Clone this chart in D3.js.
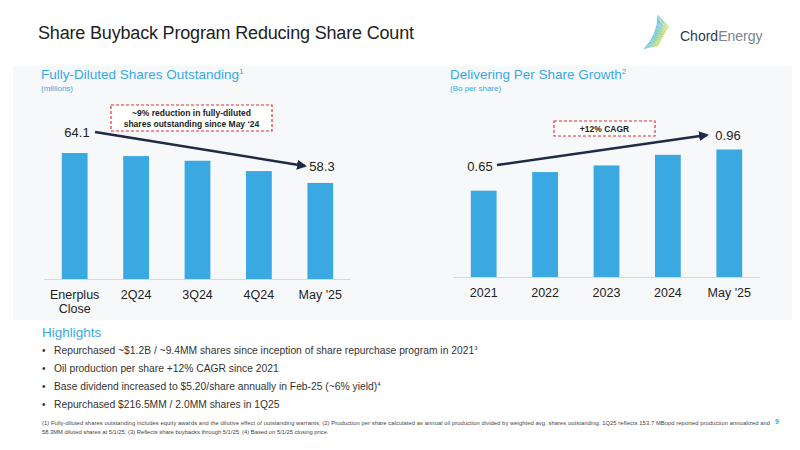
<!DOCTYPE html>
<html lang="en">
<head>
<meta charset="UTF-8" />
<title>Share Buyback Program</title>
<style>
  body { margin: 0; background: #fff; }
  svg { display: block; font-family: "Liberation Sans", Arial, sans-serif; }
</style>
</head>
<body>
<div id="chart"></div>
<script src="https://cdnjs.cloudflare.com/ajax/libs/d3/7.8.5/d3.min.js"></script>
<script>
var shareCats = ["Enerplus\nClose", "2Q24", "3Q24", "4Q24", "May '25"];
var shareVals = [64.1, 63.5, 62.6, 60.6, 58.3];
var growthCats = ["2021", "2022", "2023", "2024", "May '25"];
var growthVals = [0.65, 0.79, 0.84, 0.92, 0.96];
var bullets = [
  ["Repurchased ~$1.2B / ~9.4MM shares since inception of share repurchase program in 2021", "3"],
  ["Oil production per share +12% CAGR since 2021", ""],
  ["Base dividend increased to $5.20/share annually in Feb-25 (~6% yield)", "4"],
  ["Repurchased $216.5MM / 2.0MM shares in 1Q25", ""]
];

var blue = "#3aa9e2", navy = "#1f2a44";
var svg = d3.select("#chart").append("svg").attr("width", 800).attr("height", 450);

svg.append("defs").append("marker").attr("id", "arr")
  .attr("viewBox", "0 0 10 10").attr("refX", 8).attr("refY", 5)
  .attr("markerWidth", 4).attr("markerHeight", 4).attr("orient", "auto")
  .append("path").attr("d", "M0,0L10,5L0,10z").attr("fill", navy);

svg.append("rect").attr("x", 13).attr("y", 66).attr("width", 779).attr("height", 254).attr("fill", "#f7f8fa");

svg.append("text").attr("x", 38).attr("y", 39).attr("font-size", 18).attr("fill", "#222")
  .attr("textLength", 376).text("Share Buyback Program Reducing Share Count");

// logo
var logo = svg.append("g").attr("transform", "translate(660,33)");
for (var i = 0; i < 10; i++) {
  logo.append("path")
    .attr("d", "M" + (-16 + i * 1.5) + "," + (16 - i * 0.3) + " Q" + (-2 + i * 0.5) + "," + (2) + " " + (-2 + i * 1.2) + "," + (-18 + i * 1.2))
    .attr("fill", "none").attr("stroke", d3.interpolateRgb("#3ab5e6", "#b5d334")(i / 9)).attr("stroke-width", 0.8);
}
svg.append("text").attr("x", 680).attr("y", 41).attr("font-size", 14).attr("fill", "#2d3a4a").text("Chord")
  .append("tspan").attr("fill", "#7a8290").text("Energy");

function panel(x0, cats, vals, domain, base, top, title, sup, sub) {
  var x = d3.scaleBand().domain(cats).range([x0, x0 + 307]).paddingInner(0.58).paddingOuter(0.29);
  var y = d3.scaleLinear().domain(domain).range([base, top]);
  svg.append("text").attr("x", x0 - 3).attr("y", 79).attr("font-size", 13.5).attr("fill", blue)
    .text(title).append("tspan").attr("font-size", 8).attr("dy", -5).text(sup);
  svg.append("text").attr("x", x0 - 3).attr("y", 91).attr("font-size", 8).attr("fill", blue).text(sub);
  svg.selectAll(null).data(vals).enter().append("rect")
    .attr("x", function (d, i) { return x(cats[i]); })
    .attr("y", function (d) { return y(d); })
    .attr("width", x.bandwidth())
    .attr("height", function (d) { return base - y(d); })
    .attr("fill", blue);
  svg.append("line").attr("x1", x0).attr("x2", x0 + 307).attr("y1", base + 0.5).attr("y2", base + 0.5)
    .attr("stroke", "#d8d8d8");
  var t = svg.selectAll(null).data(cats).enter().append("text")
    .attr("x", function (d) { return x(d) + x.bandwidth() / 2; })
    .attr("y", base + 20).attr("text-anchor", "middle").attr("font-size", 12.5).attr("fill", "#222");
  t.each(function (d) {
    d.split("\n").forEach(function (s, k) {
      d3.select(this).append("tspan").attr("x", d3.select(this).attr("x")).attr("dy", k ? 14 : 0).text(s);
    }, this);
  });
  return { x: x, y: y };
}

var L = panel(44, shareCats, shareVals, [39.7, 64.1], 279, 153, "Fully-Diluted Shares Outstanding", "1", "(millions)");
var R = panel(453, growthCats, growthVals, [0, 0.96], 277, 149.5, "Delivering Per Share Growth", "2", "(Bo per share)");

// left annotations
svg.append("text").attr("x", 77).attr("y", 137).attr("font-size", 13).attr("text-anchor", "middle").attr("fill", "#222").text(shareVals[0]);
svg.append("text").attr("x", 322).attr("y", 171).attr("font-size", 13).attr("text-anchor", "middle").attr("fill", "#222").text(shareVals[4]);
svg.append("line").attr("x1", 95).attr("y1", 132).attr("x2", 305).attr("y2", 166)
  .attr("stroke", navy).attr("stroke-width", 2.5).attr("marker-end", "url(#arr)");
svg.append("rect").attr("x", 111).attr("y", 105).attr("width", 161).attr("height", 26)
  .attr("fill", "#fff").attr("stroke", "#e53030").attr("stroke-dasharray", "3,2").attr("stroke-width", 1.2);
svg.append("text").attr("x", 191.5).attr("y", 116).attr("text-anchor", "middle").attr("font-size", 8.5).attr("font-weight", "bold").attr("fill", "#222")
  .text("~9% reduction in fully-diluted");
svg.append("text").attr("x", 191.5).attr("y", 127).attr("text-anchor", "middle").attr("font-size", 8.5).attr("font-weight", "bold").attr("fill", "#222")
  .text("shares outstanding since May ‘24");

// right annotations
svg.append("text").attr("x", 480).attr("y", 171).attr("font-size", 13).attr("text-anchor", "middle").attr("fill", "#222").text(growthVals[0].toFixed(2));
svg.append("text").attr("x", 728).attr("y", 140).attr("font-size", 13).attr("text-anchor", "middle").attr("fill", "#222").text(growthVals[4].toFixed(2));
svg.append("line").attr("x1", 497).attr("y1", 165).attr("x2", 707).attr("y2", 135)
  .attr("stroke", navy).attr("stroke-width", 2.5).attr("marker-end", "url(#arr)");
svg.append("rect").attr("x", 554).attr("y", 121).attr("width", 101).attr("height", 15)
  .attr("fill", "#fff").attr("stroke", "#e53030").attr("stroke-dasharray", "3,2").attr("stroke-width", 1.2);
svg.append("text").attr("x", 604.5).attr("y", 131.5).attr("text-anchor", "middle").attr("font-size", 8.5).attr("font-weight", "bold").attr("fill", "#222")
  .text("+12% CAGR");

// highlights
svg.append("text").attr("x", 42).attr("y", 337).attr("font-size", 13.5).attr("fill", blue).text("Highlights");
bullets.forEach(function (b, i) {
  var yy = 354 + i * 18;
  svg.append("text").attr("x", 42).attr("y", yy).attr("font-size", 10).attr("fill", "#333").text("•");
  var t = svg.append("text").attr("x", 54).attr("y", yy).attr("font-size", 10.3).attr("fill", "#333").text(b[0]);
  if (b[1]) t.append("tspan").attr("font-size", 6).attr("dy", -4).text(b[1]);
});
svg.append("text").attr("x", 42).attr("y", 425).attr("font-size", 5.8).attr("fill", "#444")
  .attr("textLength", 728)
  .text("(1) Fully-diluted shares outstanding includes equity awards and the dilutive effect of outstanding warrants; (2) Production per share calculated as annual oil production divided by weighted avg. shares outstanding. 1Q25 reflects 153.7 MBopd reported production annualized and");
svg.append("text").attr("x", 42).attr("y", 434).attr("font-size", 5.8).attr("fill", "#444")
  .text("58.3MM diluted shares at 5/1/25; (3) Reflects share buybacks through 5/1/25; (4) Based on 5/1/25 closing price.");
svg.append("text").attr("x", 775).attr("y", 424).attr("font-size", 7).attr("font-weight", "bold").attr("fill", blue).text("9");
</script>
</body>
</html>
